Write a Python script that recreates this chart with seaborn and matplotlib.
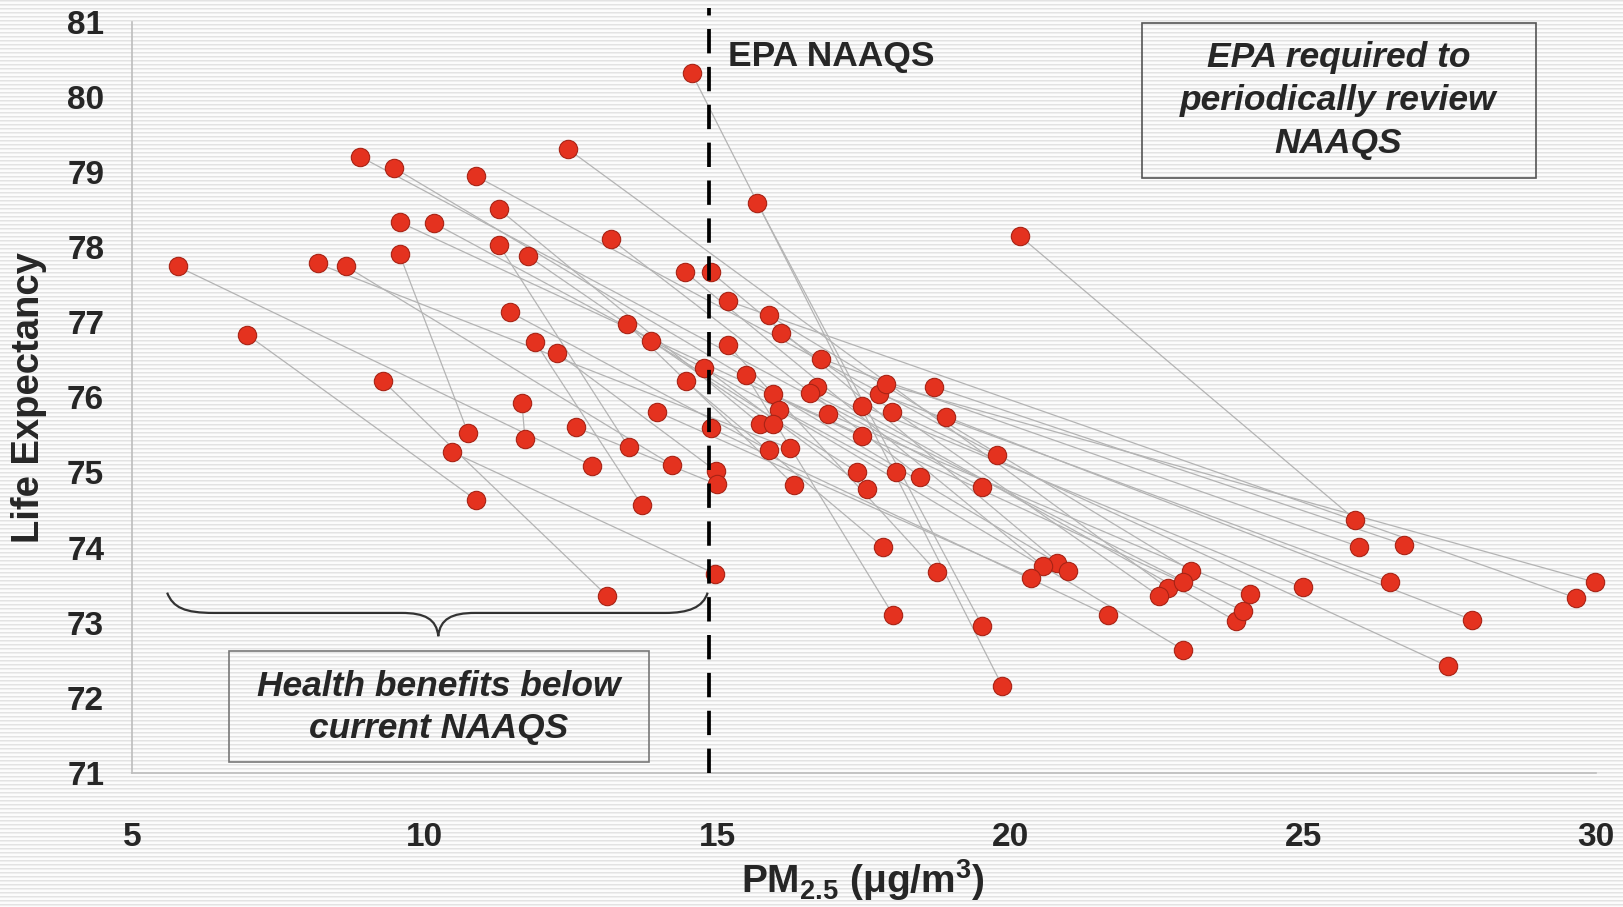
import numpy as np
import pandas as pd
import matplotlib
matplotlib.use("Agg")
import matplotlib.pyplot as plt
from matplotlib.patches import Rectangle, PathPatch
from matplotlib.path import Path
import seaborn as sns

# Paired metro-area observations: later period (lower PM2.5) and earlier period
pm_2000 = [5.78, 6.97, 8.17, 8.66, 8.90, 9.48, 9.57, 9.57, 10.15, 9.28,
           10.88, 11.27, 11.27, 11.76, 12.45, 13.18, 11.46, 11.89, 12.26, 13.46,
           13.87, 14.44, 14.56, 14.88, 15.18, 15.87, 15.68, 16.08, 15.18, 14.77,
           14.46, 15.48, 11.66, 12.58, 10.47, 20.17, 13.96, 14.88, 15.94, 16.05,
           16.70, 16.58, 16.88, 17.46, 16.77, 18.69, 17.76, 17.98, 18.90, 17.87]
le_2000 = [77.74, 76.83, 77.78, 77.74, 79.20, 79.05, 78.33, 77.90, 78.32, 76.22,
           78.94, 78.50, 78.02, 77.88, 79.30, 78.10, 77.13, 76.73, 76.59, 76.97,
           76.75, 77.67, 80.31, 77.67, 77.28, 77.09, 78.58, 76.86, 76.69, 76.39,
           76.21, 76.30, 75.92, 75.60, 75.27, 78.14, 75.81, 75.59, 76.04, 75.83,
           76.14, 76.06, 75.78, 75.89, 76.51, 76.14, 76.04, 75.81, 75.74, 76.17]
pm_1980 = [12.86, 10.88, 16.23, 14.22, 19.52, 20.79, 17.46, 10.74, 18.05, 13.11,
           19.77, 15.73, 13.48, 15.94, 22.69, 18.46, 15.87, 13.71, 14.97, 16.31,
           17.38, 20.55, 19.86, 20.99, 29.66, 23.09, 19.52, 22.53, 18.74, 17.55,
           17.82, 18.00, 11.71, 14.99, 14.96, 25.89, 20.35, 21.66, 22.94, 22.95,
           23.86, 23.98, 24.10, 24.99, 25.96, 26.72, 26.49, 27.47, 27.88, 29.98]
le_1980 = [75.09, 74.63, 75.32, 75.10, 74.80, 73.80, 75.48, 75.52, 75.01, 73.36,
           75.23, 75.64, 75.34, 75.64, 73.46, 74.94, 75.30, 74.56, 75.02, 74.83,
           75.01, 73.76, 72.16, 73.69, 73.33, 73.69, 72.96, 73.36, 73.68, 74.78,
           74.01, 73.10, 75.45, 74.84, 73.65, 74.37, 73.60, 73.10, 73.54, 72.64,
           73.02, 73.15, 73.38, 73.47, 74.01, 74.04, 73.54, 72.42, 73.04, 73.54]

x_ticks = [5, 10, 15, 20, 25, 30]
y_ticks = [71, 72, 73, 74, 75, 76, 77, 78, 79, 80, 81]
naaqs_level = 14.85

n = len(pm_2000)
df = pd.DataFrame({
    "city": list(range(n)) * 2,
    "period": ["2000"] * n + ["1980"] * n,
    "pm": pm_2000 + pm_1980,
    "le": le_2000 + le_1980,
})

sns.set_theme(style="white")
plt.rcParams["font.family"] = ["Liberation Sans", "DejaVu Sans"]
plt.rcParams["font.weight"] = "bold"
plt.rcParams["mathtext.fontset"] = "custom"
plt.rcParams["mathtext.rm"] = "Liberation Sans:bold"
plt.rcParams["mathtext.bf"] = "Liberation Sans:bold"

W, H = 1624, 907
fig = plt.figure(figsize=(W / 100, H / 100), dpi=100)
fig.patch.set_facecolor("white")

# pinstripe backdrop
bg = fig.add_axes([0, 0, 1, 1], zorder=-10)
rows = np.full(H, 0.985)
rows[0::4] = 0.89
rows[1::4] = 0.935
bg.imshow(np.repeat(rows[:, None], 4, axis=1), cmap="gray", vmin=0, vmax=1,
          aspect="auto", interpolation="nearest", extent=(0, 1, 0, 1))
bg.axis("off")

ax = fig.add_axes([132 / W, 1 - 773 / H, (1596 - 132) / W, (773 - 21.5) / H])
ax.set_facecolor("none")

sns.lineplot(data=df, x="pm", y="le", units="city", estimator=None, sort=False,
             color="#b4b4b4", lw=0.9, ax=ax, legend=False, zorder=2)
sns.scatterplot(data=df, x="pm", y="le", color="#e4321f", edgecolor="#a82315",
                linewidth=0.8, s=175, ax=ax, legend=False, zorder=3, clip_on=False)

ax.set_xlim(5, 30)
ax.set_ylim(71, 81)
ax.set_xticks(x_ticks)
ax.set_yticks(y_ticks)
ax.set_xticklabels([str(v) for v in x_ticks])
ax.set_yticklabels([str(v) for v in y_ticks])
for s in ["top", "right"]:
    ax.spines[s].set_visible(False)
for s in ["left", "bottom"]:
    ax.spines[s].set_color("#bdbdbd")
    ax.spines[s].set_linewidth(1.2)
ax.tick_params(axis="x", direction="out", length=9, width=1, color="#bdbdbd",
               pad=26, labelsize=24)
ax.tick_params(axis="y", direction="out", length=8, width=1, color="#bdbdbd",
               pad=12, labelsize=24)
for lab in ax.get_xticklabels() + ax.get_yticklabels():
    lab.set_fontweight("bold")

ax.set_xlabel("")
ax.set_ylabel("")
ax.text(0.4995, -0.143, "PM$_{2.5}$ (μg/m$^{3}$)", transform=ax.transAxes,
        ha="center", va="center", fontsize=28, fontweight="bold")
ax.text(-0.0705, 0.5, "Life Expectancy", transform=ax.transAxes, rotation=90,
        ha="center", va="center", fontsize=27.5, fontweight="bold")

# standard threshold
ax.plot([naaqs_level, naaqs_level], [71, 81.18], color="black", lw=2.7,
        dashes=(6.5, 3.6), clip_on=False, zorder=4)
ax.text(15.18, 80.53, "EPA NAAQS", ha="left", va="center", fontsize=25.5,
        fontweight="bold", zorder=5)

# review box
ax.add_patch(Rectangle((22.24, 78.92), 28.97 - 22.24, 80.98 - 78.92,
                       fill=False, edgecolor="#555555", lw=1.2, zorder=5,
                       clip_on=False))
ax.text(25.6, 79.95, "EPA required to\nperiodically review\nNAAQS", ha="center",
        va="center", fontsize=25.5, fontweight="bold", style="italic",
        linespacing=1.38, zorder=6)

# benefits box
ax.add_patch(Rectangle((6.65, 71.15), 13.83 - 6.65, 72.62 - 71.15,
                       fill=False, edgecolor="#777777", lw=1.2, zorder=5))
ax.text(10.24, 71.87, "Health benefits below\ncurrent NAAQS", ha="center",
        va="center", fontsize=25.5, fontweight="bold", style="italic",
        linespacing=1.36, zorder=6)

# curly brace over the sub-standard range
verts = [(5.6, 73.40),
         (5.7, 73.20), (5.9, 73.13), (6.4, 73.13),
         (9.6, 73.13),
         (10.0, 73.13), (10.2, 73.05), (10.23, 72.82),
         (10.26, 73.05), (10.46, 73.13), (10.86, 73.13),
         (14.1, 73.13),
         (14.5, 73.13), (14.75, 73.20), (14.83, 73.40)]
codes = [Path.MOVETO,
         Path.CURVE4, Path.CURVE4, Path.CURVE4,
         Path.LINETO,
         Path.CURVE4, Path.CURVE4, Path.CURVE4,
         Path.CURVE4, Path.CURVE4, Path.CURVE4,
         Path.LINETO,
         Path.CURVE4, Path.CURVE4, Path.CURVE4]
ax.add_patch(PathPatch(Path(verts, codes), fill=False, edgecolor="#333333",
                       lw=1.6, zorder=4))

fig.savefig("out.png", dpi=100)
